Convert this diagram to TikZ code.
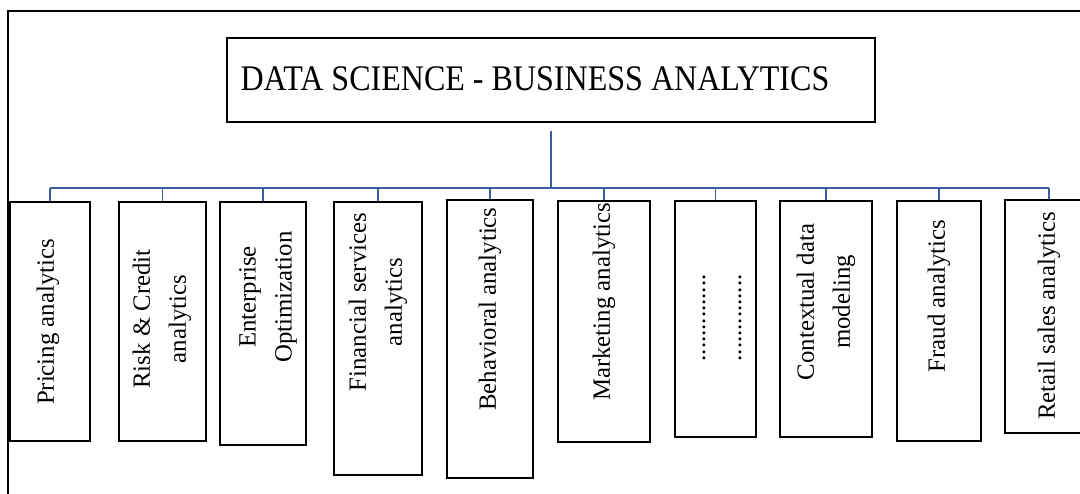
\documentclass[tikz,border=0pt]{standalone}
\usepackage{fontspec}
\setmainfont{Liberation Serif}
\usepackage{graphicx}
\definecolor{busblue}{RGB}{59,94,160}
\begin{document}
\begin{tikzpicture}[x=1pt,y=-1pt,
  frameline/.style={line width=2pt},
  box/.style={draw, line width=2.2pt, inner sep=0pt},
  lbl/.style={rotate=90, font=\fontsize{24.8}{36}\selectfont, align=center, inner sep=0pt},
  bus/.style={draw=busblue, line width=2.2pt},
  drop/.style={draw=busblue, line width=1.8pt}]
\useasboundingbox[fill=white] (0,0) rectangle (1080,494);
\clip (0,0) rectangle (1080,494);

% outer frame (top and left edges)
\draw[frameline] (1080,11.5) -- (8,11.5) -- (8,494);

% heading
\node[box, minimum width=648pt, minimum height=84pt] (title) at (551,80) {};
\node[anchor=base, inner sep=0pt] (titletext) at (535,91)
  {\scalebox{0.89}[1]{\fontsize{36}{40}\selectfont DATA SCIENCE - BUSINESS ANALYTICS}};

% category boxes
\node[box, minimum width=80pt, minimum height=239pt] (b1)  at (50,321.5) {};
\node[box, minimum width=87pt, minimum height=239pt] (b2)  at (162.5,321.5) {};
\node[box, minimum width=86pt, minimum height=243pt] (b3)  at (263,323.5) {};
\node[box, minimum width=88pt, minimum height=273pt] (b4)  at (378,338.5) {};
\node[box, minimum width=86pt, minimum height=278pt] (b5)  at (490,339) {};
\node[box, minimum width=92pt, minimum height=241pt] (b6)  at (604,321.5) {};
\node[box, minimum width=81pt, minimum height=236pt] (b7)  at (715.5,319) {};
\node[box, minimum width=92pt, minimum height=236pt] (b8)  at (826,319) {};
\node[box, minimum width=84pt, minimum height=240pt] (b9)  at (939,321) {};
\node[box, minimum width=88pt, minimum height=233pt] (b10) at (1049,316.5) {};

% rotated labels
\node[lbl] (t1)  at (48,322)   {Pricing analytics};
\node[lbl] (t2)  at (162,319)  {Risk \& Credit\\analytics};
\node[lbl] (t3)  at (268,297)  {Enterprise\\Optimization};
\node[lbl] (t4)  at (378,302)  {Financial services\\analytics};
\node[lbl] (t5)  at (490,309)  {Behavioral analytics};
\node[lbl] (t6)  at (604,302)  {Marketing analytics};
\node[lbl] (t7)  at (722,318)  {..............\\..............};
\node[lbl] (t8)  at (826,302)  {Contextual data\\modeling};
\node[lbl] (t9)  at (939,296)  {Fraud analytics};
\node[lbl] (t10) at (1049,316) {Retail sales analytics};

% connector tree
\coordinate (busy) at (0,188);
\draw[bus] ([yshift=-8pt]title.south) -- (title.south |- busy);
\draw[bus] (b1.north |- busy) -- (b10.north |- busy);
\foreach \b in {b1,b2,b3,b4,b5,b6,b7,b8,b9,b10}
  \draw[drop] (\b.north |- busy) -- (\b.north);
\end{tikzpicture}
\end{document}
